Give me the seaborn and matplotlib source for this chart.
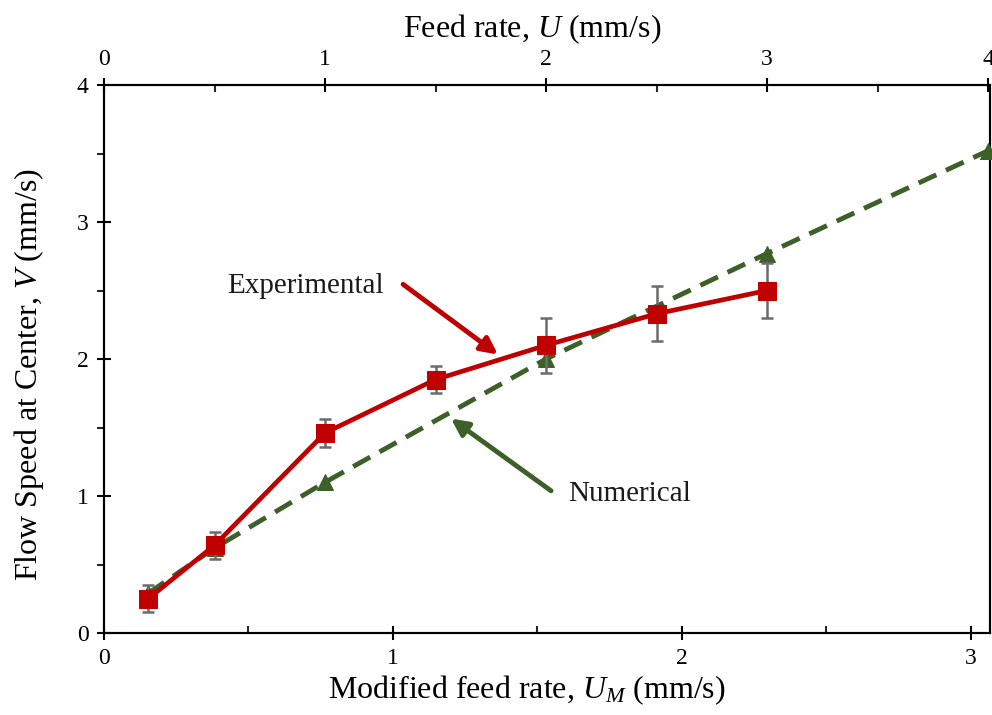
import matplotlib
matplotlib.use("Agg")
import matplotlib.pyplot as plt
import seaborn as sns
import pandas as pd
import numpy as np
from matplotlib.ticker import MultipleLocator

sns.set_theme(style="white")
plt.rcParams['font.family'] = ['Liberation Serif', 'DejaVu Serif']
plt.rcParams['mathtext.fontset'] = 'custom'
plt.rcParams['mathtext.rm'] = 'Liberation Serif'
plt.rcParams['mathtext.it'] = 'Liberation Serif:italic'

# Data (x in feed rate U, mm/s)
exp_U = [0.2, 0.5, 1.0, 1.5, 2.0, 2.5, 3.0]
exp_V = [0.25, 0.64, 1.46, 1.85, 2.10, 2.33, 2.50]
exp_err = [0.10, 0.10, 0.10, 0.10, 0.20, 0.20, 0.20]
num_U = [0.2, 0.5, 1.0, 2.0, 3.0, 4.0]
num_V = [0.29, 0.62, 1.10, 2.00, 2.77, 3.52]

bottom_ticks = [0, 1, 2, 3]
top_ticks = [0, 1, 2, 3, 4]
y_ticks = [0, 1, 2, 3, 4]

RED = '#C00000'
GREEN = '#3D5F28'

fig = plt.figure(figsize=(9.92, 7.15), dpi=100)
ax = fig.add_axes([104/992, 1-633/715, (990-104)/992, (633-85)/715])
ax.set_xlim(0, 3.066)
ax.set_ylim(0, 4)
axt = ax.twiny()
axt.set_xlim(0, 4.009)

df_exp = pd.DataFrame({'U': exp_U, 'V': exp_V})
df_num = pd.DataFrame({'U': num_U, 'V': num_V})

sns.lineplot(data=df_num, x='U', y='V', ax=axt, color=GREEN, lw=3.5,
             linestyle=(0, (4.0, 2.2)), marker='^', markersize=11,
             markeredgecolor=GREEN, markerfacecolor=GREEN, zorder=3,
             clip_on=False)
axt.errorbar(exp_U, exp_V, yerr=exp_err, fmt='none', ecolor='#6b6b6b',
             elinewidth=1.8, capsize=4.5, capthick=1.8, zorder=4)
sns.lineplot(data=df_exp, x='U', y='V', ax=axt, color=RED, lw=3.4,
             marker='s', markersize=13, markeredgecolor=RED,
             markerfacecolor=RED, zorder=5)

for a in (ax, axt):
    for s in a.spines.values():
        s.set_color('black')
        s.set_linewidth(1.5)

ax.set_xticks(bottom_ticks)
ax.xaxis.set_minor_locator(MultipleLocator(0.5))
ax.set_yticks(y_ticks)
ax.yaxis.set_minor_locator(MultipleLocator(0.5))
ax.tick_params(axis='x', which='major', direction='inout', length=10, width=1.5,
               labelsize=17, colors='black', pad=6, bottom=True)
ax.tick_params(axis='x', which='minor', direction='in', length=5, width=1.5, bottom=True)
ax.tick_params(axis='y', which='major', direction='inout', length=10, width=1.5,
               labelsize=17, colors='black', pad=6, left=True)
ax.tick_params(axis='y', which='minor', direction='out', length=5, width=1.5, left=True)

axt.set_xticks(top_ticks)
axt.xaxis.set_minor_locator(MultipleLocator(0.5))
axt.tick_params(axis='x', which='major', direction='inout', length=10, width=1.5,
                labelsize=17, colors='black', pad=6, top=True)
axt.tick_params(axis='x', which='minor', direction='in', length=5, width=1.5, top=True)
axt.set_ylabel('')

ax.set_xlabel(r'Modified feed rate, $\mathit{U}_{\mathit{M}}$ (mm/s)', fontsize=23, color='black')
axt.set_xlabel(r'Feed rate, $\mathit{U}$ (mm/s)', fontsize=23, color='black')
ax.set_ylabel(r'Flow Speed at Center, $\mathit{V}$ (mm/s)', fontsize=23, color='black')
ax.xaxis.set_label_coords(0.4774, -0.074)
axt.xaxis.set_label_coords(0.483, 1.088)
ax.yaxis.set_label_coords(-0.066, 0.471)

ax.text(0.426, 2.53, 'Experimental', fontsize=21, va='center', ha='left', color='#1a1a1a')
ax.text(1.606, 1.016, 'Numerical', fontsize=21, va='center', ha='left', color='#1a1a1a')
ax.annotate('', xy=(1.363, 2.033), xytext=(1.035, 2.545),
            arrowprops=dict(arrowstyle='-|>', color=RED, lw=3.5, mutation_scale=25,
                            shrinkA=0, shrinkB=0))
ax.annotate('', xy=(1.201, 1.565), xytext=(1.547, 1.038),
            arrowprops=dict(arrowstyle='-|>', color=GREEN, lw=3.5, mutation_scale=25,
                            shrinkA=0, shrinkB=0))

fig.savefig('out.png', dpi=100)
